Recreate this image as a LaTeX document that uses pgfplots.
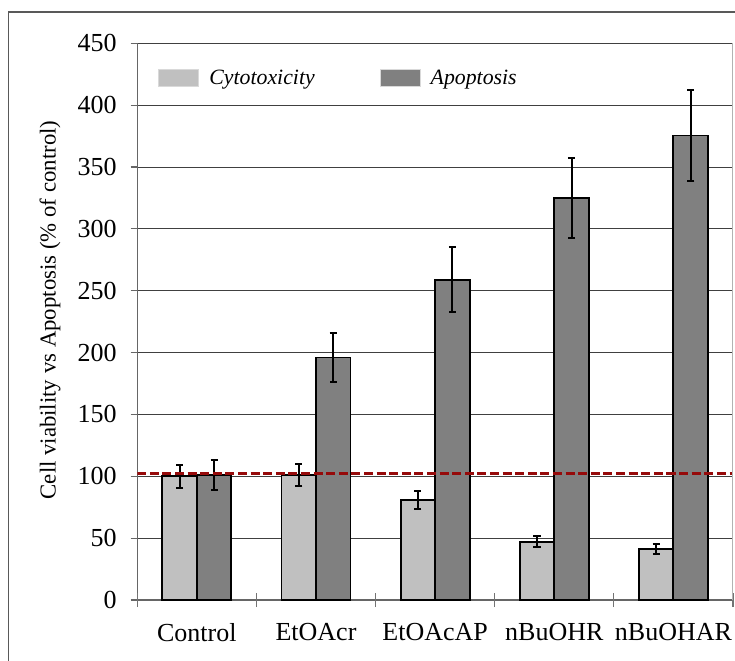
\documentclass[border=0pt]{standalone}
\usepackage{pgfplots}
\pgfplotsset{compat=1.18}
\usepackage{fontspec}
\setmainfont{Liberation Serif}
\definecolor{cytobar}{RGB}{192,192,192}
\definecolor{apobar}{RGB}{128,128,128}
\definecolor{refred}{RGB}{150,10,10}
\begin{document}
\begin{tikzpicture}
\begin{axis}[
  at={(0,0)}, anchor=south west,
  scale only axis,
  width=297.85pt, height=278.35pt,
  xmin=-0.5, xmax=4.5, ymin=0, ymax=450,
  ytick={0,50,...,450},
  xtick={0,1,2,3,4},
  xticklabels={Control,EtOAcr,EtOAcAP,nBuOHR,nBuOHAR},
  xtick style={draw=none},
  extra x ticks={-0.5,0.5,1.5,2.5,3.5,4.5},
  extra x tick labels={},
  extra x tick style={tick align=center, major tick length=7pt, xtick style={draw=black!55, line width=0.6pt}, grid=none},
  tick align=outside,
  major tick length=3.3pt,
  ytick style={draw=black!60, line width=0.6pt},
  axis x line*=bottom, axis y line*=left,
  axis line style={draw=black!60, line width=0.6pt},
  ymajorgrids,
  major grid style={draw=black!75, line width=0.5pt},
  /pgf/number format/assume math mode=true,
  ticklabel style={font=\fontsize{13}{15}\selectfont},
  yticklabel style={xshift=-3.5pt},
  xticklabel style={yshift=-4.9pt},
  ylabel={Cell viability vs Apoptosis (\% of control)},
  ylabel style={at={(axis description cs:-0.1466,0.521)}, anchor=center, font=\fontsize{11.4}{13}\selectfont},
  ybar=0pt, bar width=17.25pt,
  legend style={at={(axis description cs:0,1)}, anchor=north west, xshift=10.35pt, yshift=-11pt,
    draw=none, fill=none, inner sep=0pt, font=\fontsize{10.9}{13}\selectfont\itshape,
    legend columns=2,
    /tikz/every odd column/.append style={column sep=3pt},
    /tikz/every even column/.append style={column sep=30.5pt}},
  legend image code/.code={\fill[#1, draw=black!15, line width=0.5pt] (0pt,-4.25pt) rectangle (20pt,4.25pt);},
  error bars/error bar style={line width=1pt, black},
  error bars/error mark options={line width=1pt, black, mark size=1.8pt, rotate=90},
]
\addplot[fill=cytobar, draw=black, line width=0.95pt,
  error bars/.cd, y dir=both, y explicit]
  coordinates {(0,100) +- (0,9.5) (1,101) +- (0,9) (2,81) +- (0,7.5) (3,47) +- (0,4.5) (4,41) +- (0,4)};
\addlegendentry{Cytotoxicity}
\addplot[fill=apobar, draw=black, line width=0.95pt,
  error bars/.cd, y dir=both, y explicit]
  coordinates {(0,101) +- (0,12) (1,196) +- (0,19.5) (2,259) +- (0,26) (3,325) +- (0,32.5) (4,375.5) +- (0,37)};
\addlegendentry{Apoptosis}
\addplot[sharp plot, no marks, forget plot, draw=refred, line width=1.5pt, dash pattern=on 4.5pt off 1.8pt]
  coordinates {(-0.5,102.5) (4.5,102.5)};
\draw[black!30, line width=0.8pt] (rel axis cs:1,0) -- (rel axis cs:1,1);
\end{axis}
\draw[black!65, line width=0.8pt] (-64.4pt,-60pt) -- (-64.4pt,294pt) -- (330pt,294pt);
\pgfresetboundingbox
\path[use as bounding box] (-68.65pt,-30pt) rectangle (298.85pt,300pt);
\end{tikzpicture}
\end{document}
